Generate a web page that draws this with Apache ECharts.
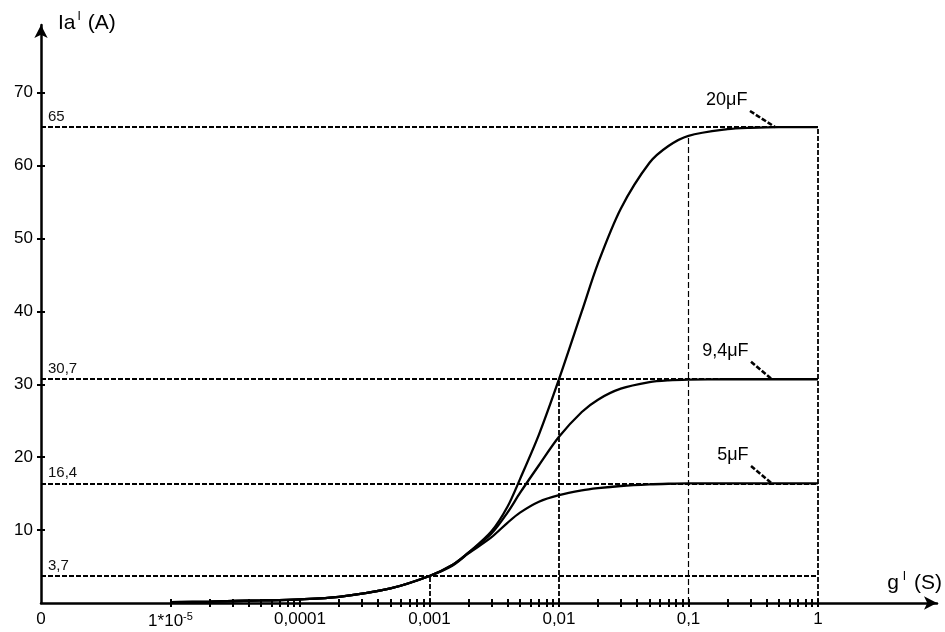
<!DOCTYPE html>
<html>
<head>
<meta charset="utf-8">
<script src="https://cdn.jsdelivr.net/npm/echarts@6/dist/echarts.min.js"></script>
<style>
  html, body { margin: 0; padding: 0; background: #fff; }
  #chart { width: 945px; height: 632px; }
</style>
</head>
<body>
<div id="chart"></div>
<script>
const gValues = [1e-5, 2e-5, 5e-5, 1e-4, 2e-4, 5e-4, 1e-3, 1.5e-3, 2e-3, 3e-3, 4e-3, 5e-3, 7e-3,
  1e-2, 1.5e-2, 2e-2, 3e-2, 5e-2, 7e-2, 0.1, 0.2, 0.3, 0.5, 1]
// current Ia' (A) for each capacitor
const current5uF = [0.1, 0.2, 0.35, 0.5, 0.85, 2.0, 3.7, 5.1, 6.8, 9.0, 11.0, 12.4, 13.9,
  14.8, 15.45, 15.75, 16.05, 16.28, 16.36, 16.4, 16.4, 16.4, 16.4, 16.4]
const current9uF = [0.1, 0.2, 0.35, 0.5, 0.85, 2.0, 3.7, 5.2, 6.9, 9.5, 12.4, 15.1, 18.9,
  22.8, 26.2, 27.9, 29.4, 30.3, 30.55, 30.65, 30.7, 30.7, 30.7, 30.7]
const current20uF = [0.1, 0.2, 0.35, 0.5, 0.85, 2.0, 3.7, 5.2, 6.9, 9.8, 13.2, 17.0, 23.1,
  30.7, 40.0, 46.6, 54.1, 60.4, 62.7, 64.1, 65.0, 65.2, 65.3, 65.3]
const capLabels = ['5μF', '9,4μF', '20μF']

// axis ticks / labels
const xLabelValues = [1e-6, 1e-5, 1e-4, 1e-3, 1e-2, 0.1, 1]
const xLabelTexts = ['0', '1*10{sup|-5}', '0,0001', '0,001', '0,01', '0,1', '1']
const yTickValues = [10, 20, 30, 40, 50, 60, 70]

// dashed guide lines
const refLevels = [65.3, 30.7, 16.4, 3.7]
const refLabels = ['65', '30,7', '16,4', '3,7']
const dropX = [1e-3, 1e-2, 0.1, 1]
const dropTop = [3.7, 30.7, 64.1, 65.3]

// where the little leader strokes of the curve names start / end
const leaderFrom = [[0.304, 18.8], [0.304, 33.1], [0.2985, 67.5]]
const leaderTo = [[0.441, 16.4], [0.441, 30.7], [0.466, 65.3]]

const xMin = 0.9999e-6
const xMax = 8.3
const yMax = 79.3
const font = '"Liberation Sans", Arial, sans-serif'

// small log ticks 1..9 in every decade from 1e-5 up to 1
const xTicks = []
for (let e = -5; e < 0; e++) {
  for (let k = 1; k <= 9; k++) xTicks.push(k * Math.pow(10, e))
}
xTicks.push(1)

function xLabel(value) {
  const i = xLabelValues.findIndex(v => Math.abs(Math.log10(v) - Math.log10(value)) < 1e-4)
  return i < 0 ? '' : xLabelTexts[i]
}

const chart = echarts.init(document.getElementById('chart'))

const tickStyle = { color: '#000', width: 2 }
const xBase = {
  type: 'log',
  logBase: 10,
  min: xMin,
  max: xMax,
  position: 'bottom',
  splitLine: { show: false },
  minorTick: { show: false }
}
const yBase = {
  type: 'value',
  min: 0,
  max: yMax,
  position: 'left',
  splitLine: { show: false }
}

const curves = [current5uF, current9uF, current20uF].map((vals, i) => ({
  type: 'line',
  name: capLabels[i],
  data: gValues.map((g, j) => [g, vals[j]]),
  smooth: 0.3,
  symbol: 'none',
  silent: true,
  z: 4,
  lineStyle: { color: '#000', width: 2.3 }
}))

const hLines = refLevels.map((lv, i) => [
  {
    coord: [xMin, lv],
    label: { formatter: refLabels[i] }
  },
  { coord: [1, lv] }
])
const vLines = dropX.map((x, i) => [
  {
    coord: [x, 0],
    lineStyle: x === 0.1 ? { width: 1.2, type: [6, 3] } : {}
  },
  { coord: [x, dropTop[i]] }
])
const leaders = leaderFrom.map((p, i) => [
  { coord: p, lineStyle: { width: 2.6, type: [5, 2] } },
  { coord: leaderTo[i] }
])

const option = {
  animation: false,
  backgroundColor: '#fff',
  grid: { left: 41, right: 8, top: 25, bottom: 29, containLabel: false },
  xAxis: [
    Object.assign({}, xBase, {
      axisLine: {
        onZero: false,
        lineStyle: { color: '#000', width: 2.5 },
        symbol: ['none', 'arrow'],
        symbolSize: [10, 13]
      },
      axisTick: { show: true, customValues: xTicks, length: 4, lineStyle: tickStyle },
      axisLabel: {
        customValues: xLabelValues,
        formatter: xLabel,
        margin: 8,
        color: '#000',
        fontSize: 17,
        fontFamily: font,
        rich: {
          sup: { fontSize: 11, fontFamily: font, color: '#000', padding: [0, 0, 10, 0] }
        }
      }
    }),
    Object.assign({}, xBase, {
      axisLine: { show: false, onZero: false },
      axisTick: { show: true, inside: true, customValues: xTicks, length: 4, lineStyle: tickStyle },
      axisLabel: { show: false }
    })
  ],
  yAxis: [
    Object.assign({}, yBase, {
      axisLine: {
        show: true,
        onZero: false,
        lineStyle: { color: '#000', width: 2.5 },
        symbol: ['none', 'arrow'],
        symbolSize: [10, 13]
      },
      axisTick: { show: true, customValues: yTickValues, length: 4, lineStyle: tickStyle },
      axisLabel: { customValues: yTickValues, margin: 8, color: '#000', fontSize: 17, fontFamily: font }
    }),
    Object.assign({}, yBase, {
      axisLine: { show: false, onZero: false },
      axisTick: { show: true, inside: true, customValues: yTickValues, length: 4, lineStyle: tickStyle },
      axisLabel: { show: false }
    })
  ],
  graphic: [
    {
      type: 'text',
      left: 58,
      top: 11,
      style: {
        text: '{m|Ia}{s|I}{m| (A)}',
        rich: {
          m: { fontSize: 21, fontFamily: font, fill: '#000' },
          s: { fontSize: 12, fontFamily: font, fill: '#000', padding: [0, 1, 12, 2] }
        }
      }
    },
    {
      type: 'text',
      right: 3,
      top: 571,
      style: {
        text: '{m|g}{s|I}{m| (S)}',
        rich: {
          m: { fontSize: 21, fontFamily: font, fill: '#000' },
          s: { fontSize: 12, fontFamily: font, fill: '#000', padding: [0, 2, 12, 4] }
        }
      }
    }
  ],
  series: [
    ...curves,
    {
      // guide lines
      type: 'line',
      data: [],
      silent: true,
      z: 2,
      markLine: {
        silent: true,
        animation: false,
        symbol: ['none', 'none'],
        lineStyle: { color: '#000', width: 1.8, type: [5, 2] },
        label: {
          show: true,
          position: 'insideStartTop',
          distance: [7, 3],
          color: '#111',
          fontSize: 15,
          fontFamily: font
        },
        emphasis: { disabled: true },
        data: [
          ...hLines,
          ...vLines.map(d => [Object.assign({ label: { show: false } }, d[0]), d[1]]),
          ...leaders.map(d => [Object.assign({ label: { show: false } }, d[0]), d[1]])
        ]
      }
    },
    {
      // curve names
      type: 'scatter',
      data: leaderFrom.map((p, i) => ({ value: p, label: { formatter: capLabels[i] } })),
      symbolSize: 1,
      silent: true,
      itemStyle: { color: 'rgba(0,0,0,0)', opacity: 1 },
      label: {
        show: true,
        position: 'left',
        distance: 2,
        offset: [0, -11],
        color: '#000',
        opacity: 1,
        fontSize: 18,
        fontFamily: font
      }
    }
  ]
}

chart.setOption(option)
</script>
</body>
</html>
